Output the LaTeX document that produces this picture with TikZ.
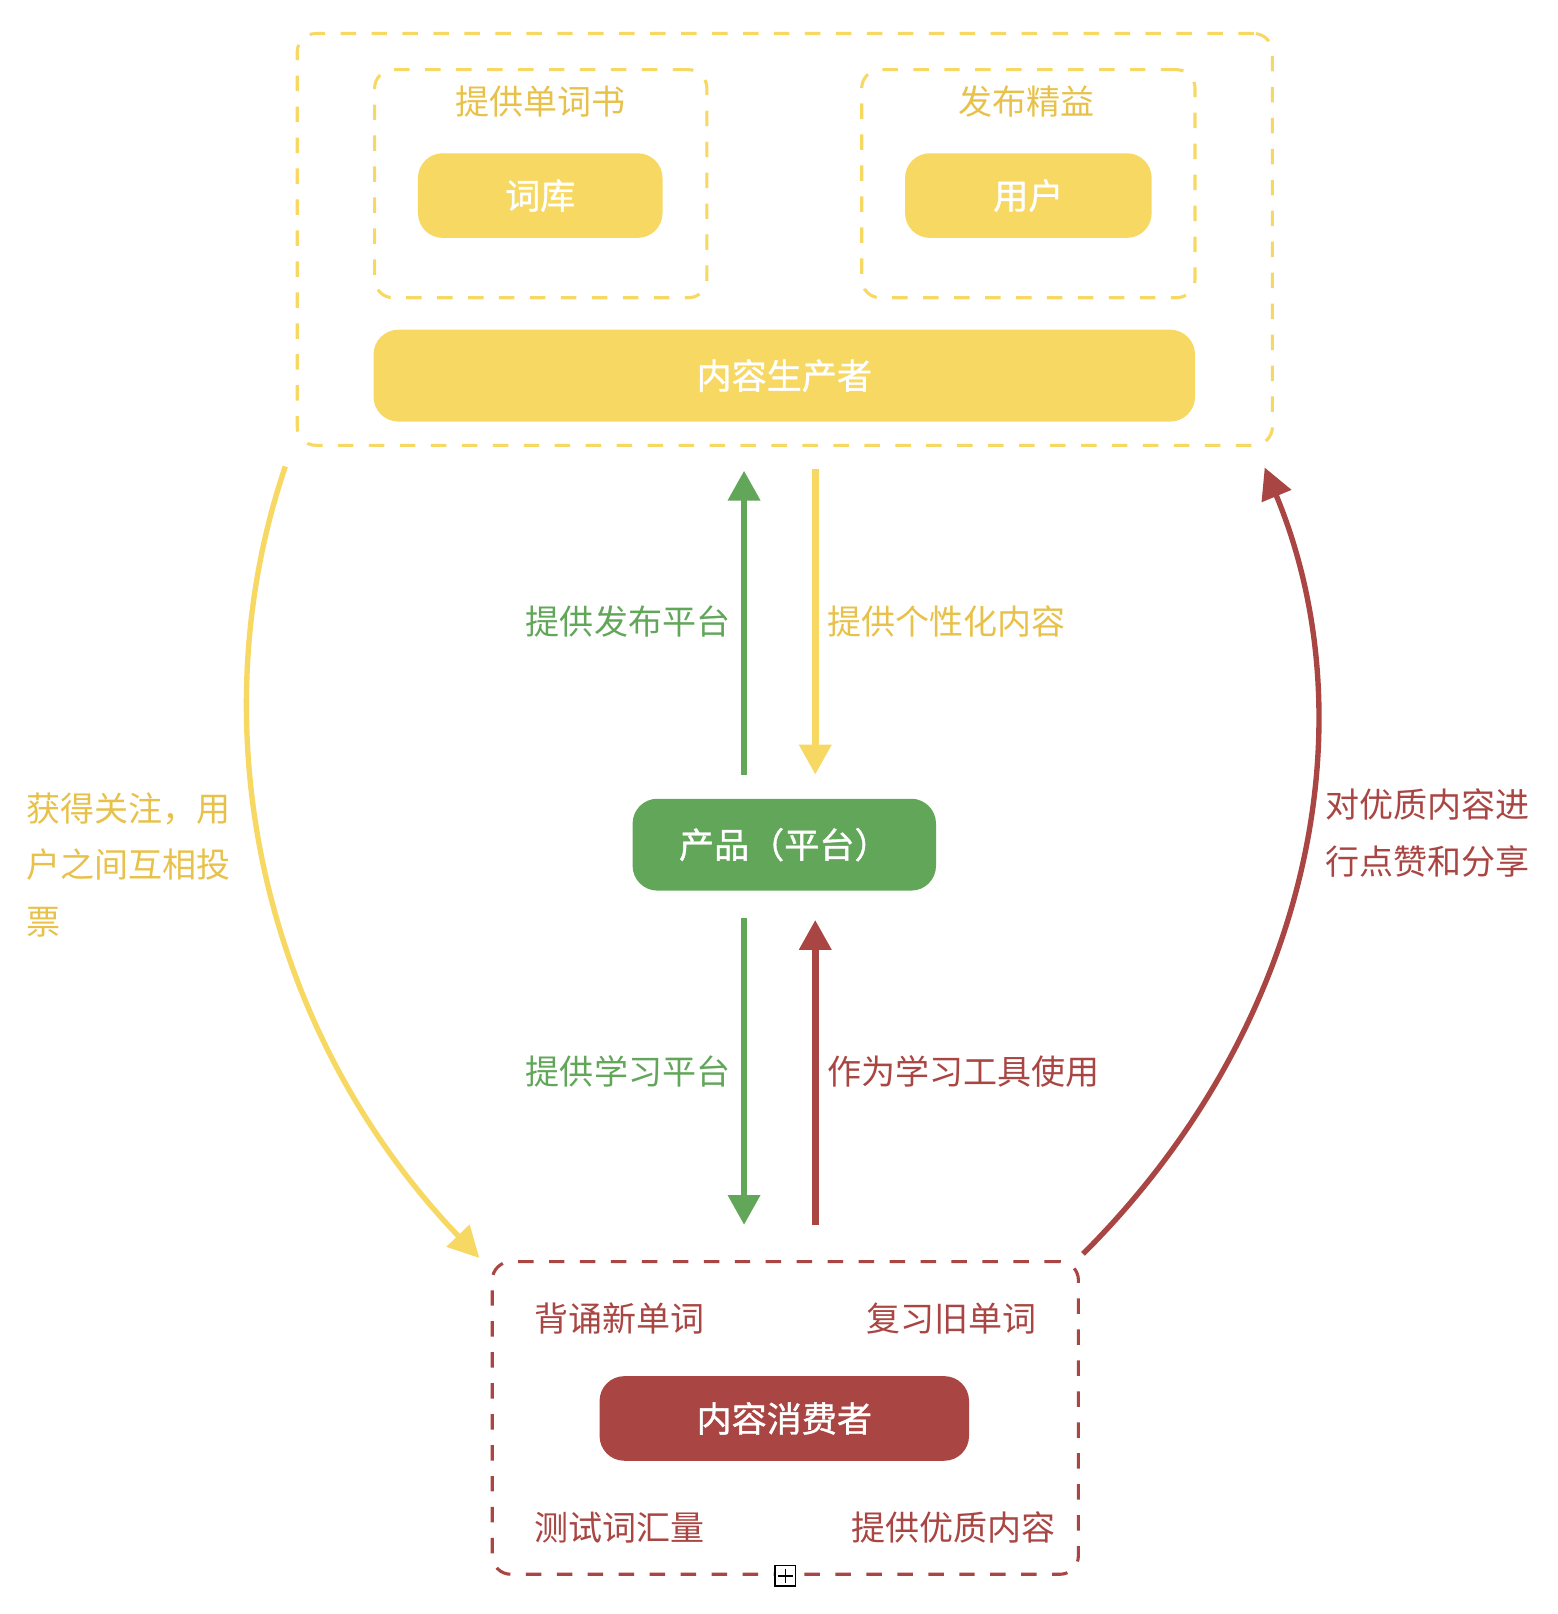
\documentclass[tikz,border=0pt]{standalone}
\usepackage{fontspec}
\setmainfont{Noto Sans CJK SC}
\newfontfamily\pillfont[FakeBold=1]{Noto Sans CJK SC}
\usepackage{xcolor}
\usetikzlibrary{arrows.meta, calc, positioning}
\definecolor{ylw}{HTML}{F7D862}
\definecolor{ylwtext}{HTML}{E8C14B}
\definecolor{grn}{HTML}{62A65A}
\definecolor{rd}{HTML}{A94643}
\tikzset{
    pill/.style={rounded corners=12pt, inner sep=0pt, text=white, font=\pillfont\fontsize{17pt}{20pt}\selectfont},
    groupbox/.style={draw, dash pattern=on 7.5pt off 7.5pt, line width=1.5pt, rounded corners=9pt, inner sep=0pt},
    lbl/.style={inner sep=0pt, font=\fontsize{16.5pt}{27.5pt}\selectfont},
    flow/.style={line width=3.3pt, -{Triangle[width=15pt,length=14.5pt]}},
    loop/.style={line width=2.6pt, -{Triangle[width=15pt,length=15pt]}}
}

\begin{document}
\begin{tikzpicture}[x=0.5pt, y=-0.5pt]
                        \useasboundingbox (0, 0) rectangle (1509.7, 1564);
                        \node[groupbox, draw=ylw, minimum width=472.5pt, minimum height=199.5pt] (producers) at (760.5, 232) {};
                        \node[groupbox, draw=ylw, minimum width=161pt, minimum height=110.5pt] (wordbooks) at (524, 178) {};
                        \node[groupbox, draw=ylw, minimum width=161.5pt, minimum height=110.5pt] (lean) at (996.5, 178) {};
                        \node[lbl, text=ylwtext] (wordbookstitle) at (524, 98.5) {提供单词书};
                        \node[lbl, text=ylwtext] (leantitle) at (995, 98.5) {发布精益};
                        \node[pill, fill=ylw, minimum width=118.5pt, minimum height=41pt] (lexicon) at (523.5, 189.5) {词库};
                        \node[pill, fill=ylw, minimum width=119.5pt, minimum height=41pt] (user) at (996.5, 189.5) {用户};
                        \node[pill, fill=ylw, minimum width=398pt, minimum height=44.5pt] (producer) at (760, 364) {内容生产者};
                        \node[pill, fill=grn, minimum width=147pt, minimum height=44.5pt] (product) at (760, 818.5) {产品（平台）};
                        \node[groupbox, draw=rd, minimum width=284pt, minimum height=151.5pt] (consumers) at (761, 1374) {};
                        \node[pill, fill=rd, minimum width=179pt, minimum height=41pt] (consumer) at (760, 1374.5) {内容消费者};
                        \node[lbl, text=rd] (recite) at (600, 1277.5) {背诵新单词};
                        \node[lbl, text=rd] (review) at (922, 1277.5) {复习旧单词};
                        \node[lbl, text=rd] (vocab) at (600, 1480.5) {测试词汇量};
                        \node[lbl, text=rd] (quality) at (924, 1480.5) {提供优质内容};
                        \node[draw=black, fill=white, line width=0.8pt, minimum size=10pt, inner sep=0pt] (toggle) at (consumers.south) {};
                        \draw[line width=0.8pt]
                        ($(toggle.center)+(-7, 0)$) -- ($(toggle.center)+(7, 0)$)
                        ($(toggle.center)+(0, -7)$) -- ($(toggle.center)+(0, 7)$);
                        \draw[flow, grn] ($(product.north)+(-39, -23)$) -- ($(producers.south)+(-39.5, 23)$);
                        \draw[flow, ylw] ($(producers.south)+(29.5, 21)$) -- ($(product.north)+(30, -23)$);
                        \draw[flow, grn] ($(product.south)+(-39, 26)$) -- ($(consumers.north)+(-40, -34)$);
                        \draw[flow, rd] ($(consumers.north)+(29, -34)$) -- ($(product.south)+(30, 28)$);
                        \node[lbl, text=grn, anchor=east] (publishlbl) at (708, 602) {提供发布平台};
                        \node[lbl, text=ylwtext, anchor=west] (personallbl) at (801, 602) {提供个性化内容};
                        \node[lbl, text=grn, anchor=east] (studylbl) at (708, 1038) {提供学习平台};
                        \node[lbl, text=rd, anchor=west] (toollbl) at (801, 1038) {作为学习工具使用};
                        \coordinate (attentionstart) at ($(producers.south west)+(-10, 19)$);
                        \coordinate (attentionend) at ($(consumers.north west)+(-11, -2)$);
                        \coordinate (likestart) at ($(consumers.north east)+(3, -6)$);
                        \coordinate (likeend) at ($(producers.south east)+(-9, 20)$);
                        \draw[loop, ylw] (attentionstart) .. controls (192, 700) and (250, 995) .. (attentionend);
                        \draw[loop, rd] (likestart) .. controls (1270, 995) and (1328, 700) .. (likeend);
                        \node[lbl, text=ylwtext, anchor=west, align=left] (attentionlbl) at (25, 838) {获得关注，用\\户之间互相投\\票};
                        \node[lbl, text=rd, anchor=west, align=left] (likelbl) at (1284, 807.5) {对优质内容进\\行点赞和分享};
                    \end{tikzpicture}
\end{document}
